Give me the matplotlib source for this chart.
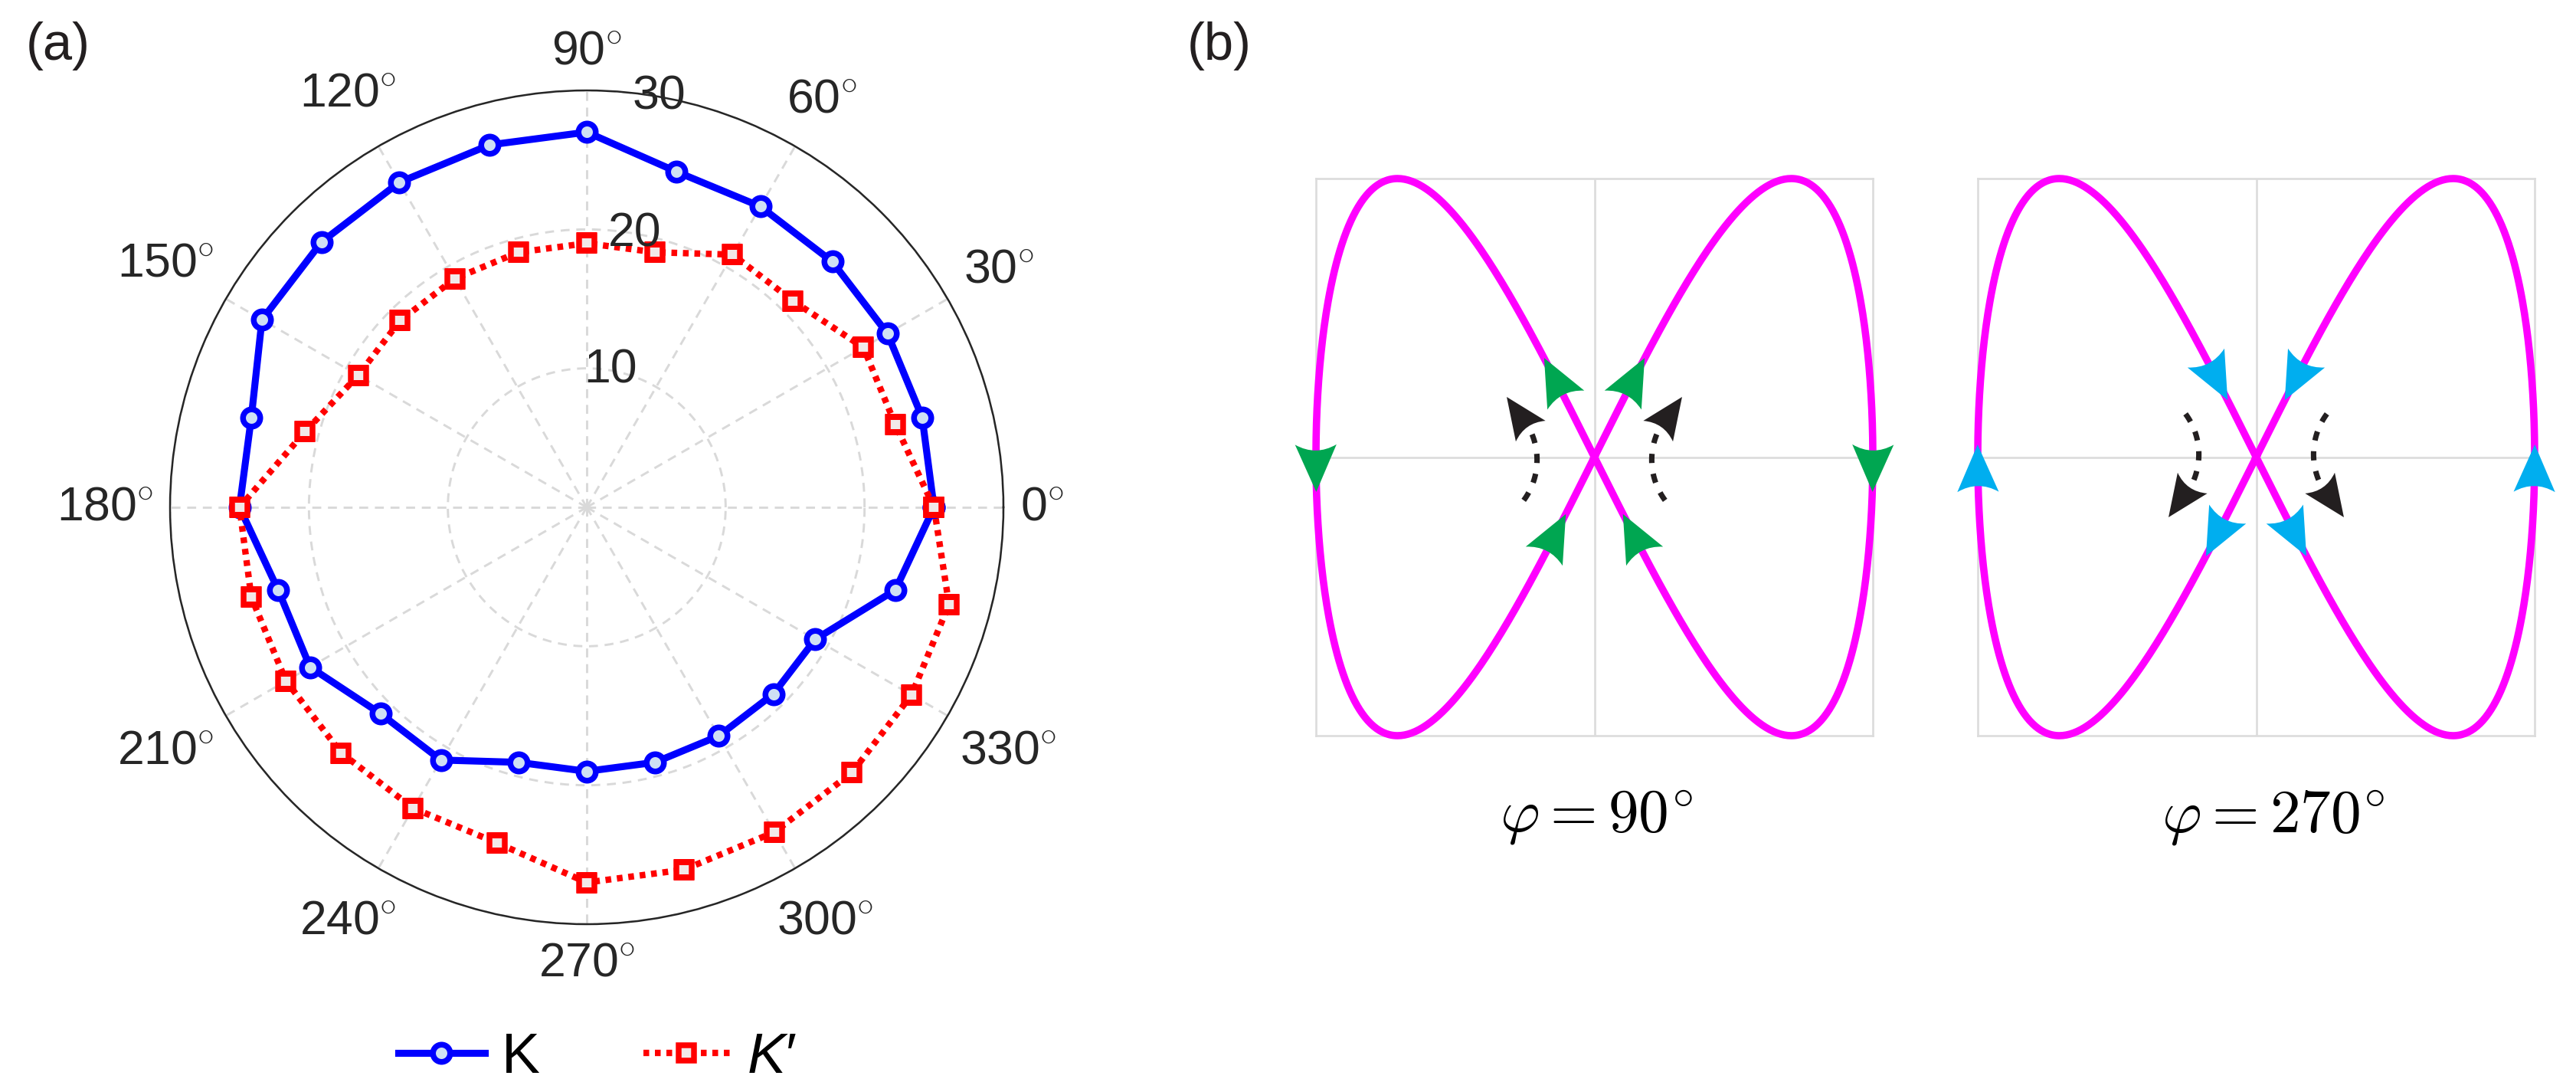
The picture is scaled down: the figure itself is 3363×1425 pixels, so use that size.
import numpy as np
import matplotlib.pyplot as plt
from matplotlib.path import Path
from matplotlib.patches import PathPatch

plt.rcParams['font.family'] = ['Liberation Sans', 'DejaVu Sans']
plt.rcParams['mathtext.fontset'] = 'custom'
plt.rcParams['mathtext.rm'] = 'Liberation Sans'
plt.rcParams['mathtext.it'] = 'Liberation Sans:italic'

# ---- panel (a) data ----
angles_deg = [0, 15, 30, 45, 60, 75, 90, 105, 120, 135, 150, 165,
              180, 195, 210, 225, 240, 255, 270, 285, 300, 315, 330, 345]
k_vals = [25, 25, 25, 25, 25, 25, 27, 27, 27, 27, 27, 25,
          25, 23, 23, 21, 21, 19, 19, 19, 19, 19, 19, 23]
kp_vals = [25, 23, 23, 21, 21, 19, 19, 19, 19, 19, 19, 21,
           25, 25, 25, 25, 25, 25, 27, 27, 27, 27, 27, 27]
theta_ticks = [0, 30, 60, 90, 120, 150, 180, 210, 240, 270, 300, 330]
r_ticks = [10, 20, 30]

# ---- panel (b) ----
phases = [90, 270]
head_colors = ['#00a651', '#00aeef']
arrow_t = [0.142, np.pi / 2 + 0.02, np.pi - 0.142,
           np.pi + 0.142, 1.5 * np.pi + 0.02, 2 * np.pi - 0.142]

W, H = 3363, 1425
fig = plt.figure(figsize=(W / 300, H / 300), dpi=300)

# polar axes
R = 544
cx, cy = 766, 662
ax = fig.add_axes([(cx - R) / W, (H - cy - R) / H, 2 * R / W, 2 * R / H],
                  projection='polar')
th = np.deg2rad(angles_deg + [angles_deg[0]])
kk = k_vals + [k_vals[0]]
kpp = kp_vals + [kp_vals[0]]
ax.plot(th, kk, '-o', color='#0000ff', lw=2.2, ms=5.4, mew=1.8,
        mfc='#cfe0f4', mec='#0000ff', label='K', zorder=3)
ax.plot(th, kpp, 's', linestyle=(0, (0.9, 0.9)), color='#ff0000', lw=2.0,
        ms=4.8, mew=1.8, mfc='#f2e8e8', mec='#ff0000', label='$K$\u2032',
        zorder=4, dash_capstyle='butt')
ax.set_ylim(0, 30)
ax.set_rticks(r_ticks)
ax.set_thetagrids(theta_ticks)
ax.set_xticklabels([])
ax.set_yticklabels([])
ax.grid(True, color='#d9d9d9', lw=0.7, linestyle=(0, (4, 3)))
ax.spines['polar'].set_color('#262626')
ax.spines['polar'].set_linewidth(0.6)
ax.tick_params(length=0)

for r in r_ticks:
    ax.text(np.deg2rad(80), r, str(r), ha='center', va='center',
            fontsize=15, color='#262626', zorder=5)

# theta labels outside the circle
fig.canvas.draw()
rend = fig.canvas.get_renderer()
c0 = ax.transAxes.transform((0.5, 0.5))
gap = 22
for a in theta_ticks:
    t = fig.text(0, 0, r'$\mathregular{%d}^{\circ}$' % a, fontsize=15,
                 color='#262626', ha='center', va='center', transform=None,
                 math_fontfamily='custom')
    bb = t.get_window_extent(rend)
    ca, sa = np.cos(np.deg2rad(a)), np.sin(np.deg2rad(a))
    ext = abs(ca) * bb.width / 2 + abs(sa) * bb.height / 2
    rr = R + gap + ext
    t.set_position((c0[0] + rr * ca, c0[1] + rr * sa))

leg = fig.legend(loc='center', bbox_to_anchor=(780 / W, 44 / H), ncol=2,
                 frameon=False, fontsize=18, handlelength=1.5,
                 handletextpad=0.3, columnspacing=1.8)

fig.text(34 / W, 1 - 28 / H, '(a)', fontsize=16.5, ha='left', va='top',
         color='#231f20')
fig.text(1550 / W, 1 - 28 / H, '(b)', fontsize=16.5, ha='left', va='top',
         color='#231f20')


def head(axx, xc, yc, ux, uy, L, Wd, color):
    vx, vy = -uy, ux
    tip = (xc + ux * L / 2, yc + uy * L / 2)
    c1 = (xc - ux * L / 2 + vx * Wd / 2, yc - uy * L / 2 + vy * Wd / 2)
    c2 = (xc - ux * L / 2 - vx * Wd / 2, yc - uy * L / 2 - vy * Wd / 2)
    ctrl = (xc - ux * L * 0.25, yc - uy * L * 0.25)
    p = Path([tip, c1, ctrl, c2, tip],
             [Path.MOVETO, Path.LINETO, Path.CURVE3, Path.CURVE3, Path.CLOSEPOLY])
    axx.add_patch(PathPatch(p, facecolor=color, edgecolor='none',
                            zorder=5, clip_on=False))


box_w = 727
box_left = [1718, 2582]
box_top = 233
tt = np.linspace(0, 2 * np.pi, 721)
for i, phi in enumerate(phases):
    bx = fig.add_axes([box_left[i] / W, (H - box_top - box_w) / H,
                       box_w / W, box_w / H])
    bx.set_xlim(-1, 1)
    bx.set_ylim(-1, 1)
    bx.set_xticks([0])
    bx.set_yticks([0])
    bx.set_xticklabels([])
    bx.set_yticklabels([])
    bx.tick_params(length=0)
    bx.grid(True, color='#dcdcdc', lw=0.65)
    for s in bx.spines.values():
        s.set_color('#dcdcdc')
        s.set_linewidth(0.65)
    bx.plot(np.sin(tt), np.sin(2 * tt), color='#ff00ff', lw=2.3,
            clip_on=False, zorder=3)
    sgn = 1 if phi == 90 else -1
    for t0 in arrow_t:
        dx, dy = np.cos(t0), 2 * np.cos(2 * t0)
        n = np.hypot(dx, dy)
        head(bx, np.sin(t0), np.sin(2 * t0), sgn * dx / n, sgn * dy / n,
             0.17, 0.149, head_colors[i])
    # dashed rotation arrows
    acx, acy, ar = -0.45, -0.01, 0.244
    aa = np.deg2rad(np.linspace(-36.5, 25, 60))
    xs = acx + ar * np.cos(aa)
    ys = acy + ar * np.sin(aa)
    ad = np.deg2rad(35)
    ux, uy = -np.sin(ad), np.cos(ad)
    for mx in (1, -1):
        my = sgn
        bx.plot(mx * xs, my * ys, color='#231f20', lw=1.7,
                linestyle=(0, (1.7, 2.0)), dash_capstyle='butt', zorder=4)
        L = 0.15
        hx = xs[-1] + ux * L / 2
        hy = ys[-1] + uy * L / 2
        head(bx, mx * hx, my * hy, mx * ux, my * uy, L, 0.13, '#231f20')
    bx.text(0.33, -0.147, r'$\varphi = %d^{\!\circ}$' % phi,
            transform=bx.transAxes, ha='left', va='center', fontsize=19,
            math_fontfamily='cm')

fig.savefig('out.png', dpi=300)
